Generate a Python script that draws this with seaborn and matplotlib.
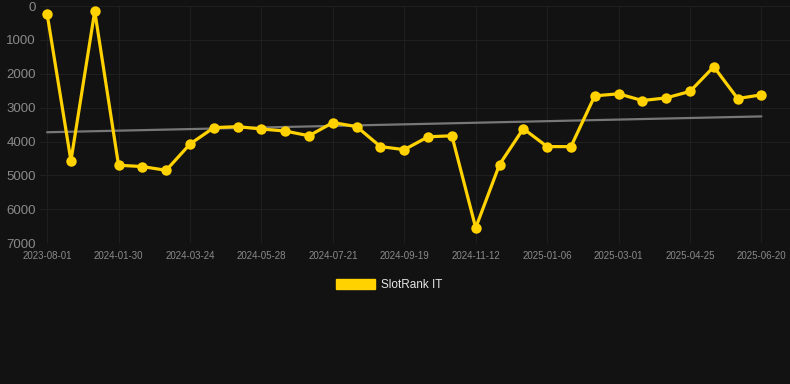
import numpy as np
import pandas as pd
import matplotlib
matplotlib.use("Agg")
import matplotlib.pyplot as plt
import seaborn as sns
from matplotlib.patches import Patch

ranks = [230, 4570, 150, 4700, 4740, 4850, 4075, 3590, 3560, 3630, 3690, 3830,
         3440, 3560, 4150, 4240, 3860, 3830, 6550, 4680, 3620, 4150, 4150, 2650,
         2590, 2790, 2710, 2520, 1790, 2730, 2620]
tick_labels = ["2023-08-01", "2024-01-30", "2024-03-24", "2024-05-28", "2024-07-21",
               "2024-09-19", "2024-11-12", "2025-01-06", "2025-03-01", "2025-04-25",
               "2025-06-20"]
series_name = "SlotRank IT"
yticks = [0, 1000, 2000, 3000, 4000, 5000, 6000, 7000]

BG = "#121212"
GOLD = "#FFD200"

sns.set_theme(style="dark")
plt.rcParams['font.family'] = ['Liberation Sans', 'DejaVu Sans']

df = pd.DataFrame({"idx": np.arange(len(ranks)), "rank": ranks})
coef = np.polyfit(df["idx"], df["rank"], 1)
df["trend"] = np.polyval(coef, df["idx"])

fig = plt.figure(figsize=(7.9, 3.84), dpi=100, facecolor=BG)
ax = fig.add_axes([0.0506, 0.367, 0.9494, 0.617])
ax.set_facecolor(BG)

sns.lineplot(data=df, x="idx", y="trend", ax=ax, color="#777777", linewidth=1.6,
             legend=False, zorder=2)
sns.lineplot(data=df, x="idx", y="rank", ax=ax, color=GOLD, linewidth=2.3,
             marker="o", markersize=7.5, markeredgewidth=0, legend=False, zorder=3)

ax.set_ylim(7000, 0)
ax.set_xlim(-0.3, 31.2)
ax.set_yticks(yticks)
ax.set_yticklabels([str(v) for v in yticks])
ax.set_xticks(np.arange(0, len(ranks), 3))
ax.set_xticklabels(tick_labels)
ax.tick_params(axis="y", labelsize=9.5, colors="#8a8a8a", length=0, pad=3)
ax.tick_params(axis="x", labelsize=7, colors="#8a8a8a", length=0, pad=6)
ax.set_xlabel("")
ax.set_ylabel("")
ax.grid(True, color="#1f1f1f", linewidth=0.8)
for s in ax.spines.values():
    s.set_visible(False)

handles = [Patch(facecolor=GOLD, edgecolor=GOLD, label=series_name)]
leg = fig.legend(handles=handles, loc="center", bbox_to_anchor=(0.493, 0.258),
                 frameon=False, handlelength=3.3, handleheight=0.9,
                 prop={"size": 8.5}, handletextpad=0.5)
for t in leg.get_texts():
    t.set_color("#e6e6e6")

fig.savefig("out.png", dpi=100, facecolor=BG)
